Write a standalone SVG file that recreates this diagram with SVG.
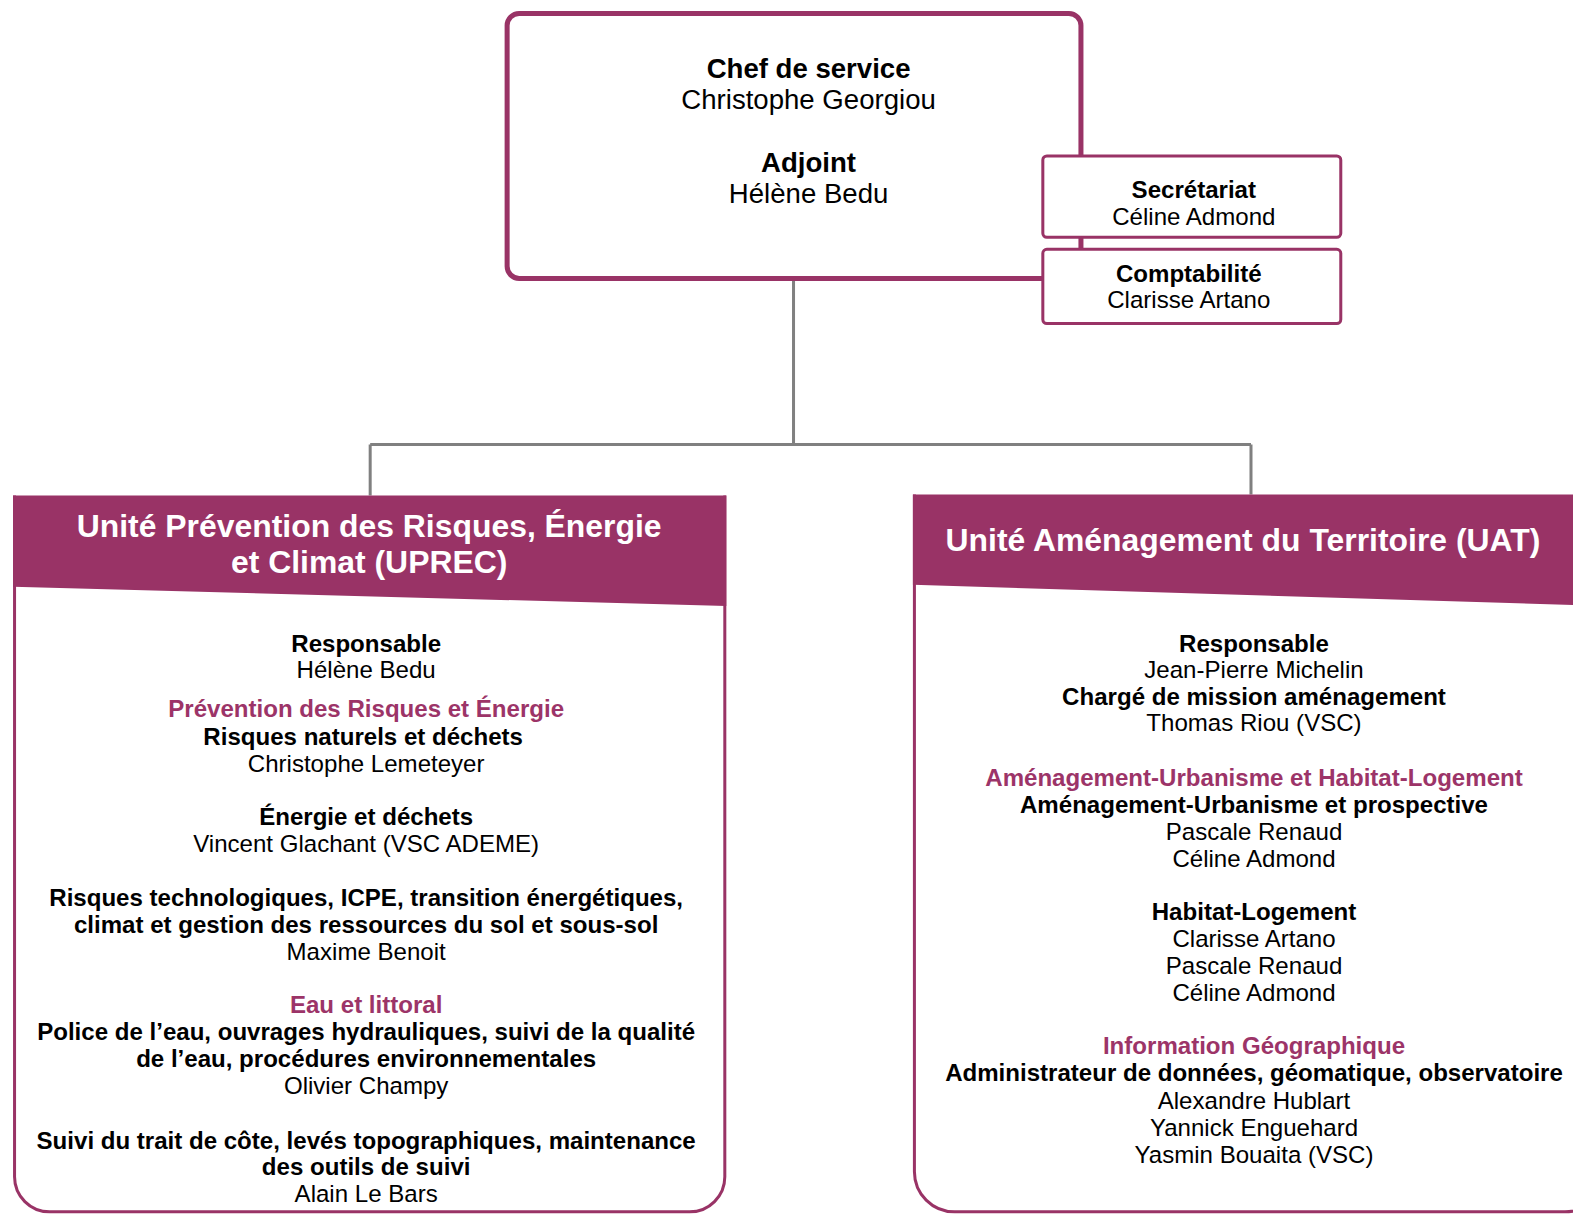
<svg xmlns="http://www.w3.org/2000/svg" width="1573" height="1214" viewBox="0 0 1573 1214">
<style>
text{font-family:"Liberation Sans",Arial,sans-serif;text-anchor:middle;fill:#000}
.b{font-weight:bold}
.t{font-size:24px}
.big{font-size:27.5px}
.p{fill:#9C3468;font-weight:bold}
.h{fill:#fff;font-weight:bold;font-size:31.8px}
.conn{stroke:#808080;stroke-width:3;fill:none}
.box{fill:#fff;stroke:#993366}
</style>
<rect width="1573" height="1214" fill="#fff"/>
<g transform="scale(1.0032)">
<g id="connectors">
<path class="conn" d="M791,280 V443 M369,443 H1247 M369,443 V495 M1247,443 V494"/>
</g>
<g id="chef">
<rect class="box" x="505.5" y="13.5" width="572" height="264" rx="12" stroke-width="5"/>
<text class="big b" x="806" y="78">Chef de service</text>
<text class="big" x="806" y="109">Christophe Georgiou</text>
<text class="big b" x="806" y="171">Adjoint</text>
<text class="big" x="806" y="202">Hélène Bedu</text>
</g>
<g id="secretariat">
<rect class="box" x="1039.5" y="155.5" width="297" height="81" rx="4" stroke-width="3"/>
<text class="t b" x="1190" y="197">Secrétariat</text>
<text class="t" x="1190" y="224">Céline Admond</text>
</g>
<g id="comptabilite">
<rect class="box" x="1039.5" y="248.5" width="297" height="74" rx="4" stroke-width="3"/>
<text class="t b" x="1185" y="281">Comptabilité</text>
<text class="t" x="1185" y="307">Clarisse Artano</text>
</g>
<g id="uprec">
<path d="M14.5,494 V1173 A35,35 0 0 0 49.5,1208 H687.5 A35,35 0 0 0 722.5,1173 V494" fill="#fff" stroke="#993366" stroke-width="3"/>
<polygon points="13,494 724,494 724,604 13,585" fill="#993366"/>
<text class="h" x="368" y="535">Unité Prévention des Risques, Énergie</text>
<text class="h" x="368" y="571">et Climat (UPREC)</text>
<text class="t b" x="365" y="650">Responsable</text>
<text class="t" x="365" y="676">Hélène Bedu</text>
<text class="t p" x="365" y="715">Prévention des Risques et Énergie</text>
<text class="t b" x="362" y="743">Risques naturels et déchets</text>
<text class="t" x="365" y="770">Christophe Lemeteyer</text>
<text class="t b" x="365" y="822">Énergie et déchets</text>
<text class="t" x="365" y="849">Vincent Glachant (VSC ADEME)</text>
<text class="t b" x="365" y="903">Risques technologiques, ICPE, transition énergétiques,</text>
<text class="t b" x="365" y="930">climat et gestion des ressources du sol et sous-sol</text>
<text class="t" x="365" y="957">Maxime Benoit</text>
<text class="t p" x="365" y="1010">Eau et littoral</text>
<text class="t b" x="365" y="1037">Police de l’eau, ouvrages hydrauliques, suivi de la qualité</text>
<text class="t b" x="365" y="1064">de l’eau, procédures environnementales</text>
<text class="t" x="365" y="1091">Olivier Champy</text>
<text class="t b" x="365" y="1145">Suivi du trait de côte, levés topographiques, maintenance</text>
<text class="t b" x="365" y="1171">des outils de suivi</text>
<text class="t" x="365" y="1198">Alain Le Bars</text>
</g>
<g id="uat">
<path d="M911.5,493 V1168 A40,40 0 0 0 951.5,1208 H1560 A40,40 0 0 0 1600,1168 V493" fill="#fff" stroke="#993366" stroke-width="3"/>
<polygon points="910,493 1602,493 1602,604 910,583" fill="#993366"/>
<text class="h" x="1239" y="549">Unité Aménagement du Territoire (UAT)</text>
<text class="t b" x="1250" y="650">Responsable</text>
<text class="t" x="1250" y="676">Jean-Pierre Michelin</text>
<text class="t b" x="1250" y="703">Chargé de mission aménagement</text>
<text class="t" x="1250" y="729">Thomas Riou (VSC)</text>
<text class="t p" x="1250" y="783">Aménagement-Urbanisme et Habitat-Logement</text>
<text class="t b" x="1250" y="810">Aménagement-Urbanisme et prospective</text>
<text class="t" x="1250" y="837">Pascale Renaud</text>
<text class="t" x="1250" y="864">Céline Admond</text>
<text class="t b" x="1250" y="917">Habitat-Logement</text>
<text class="t" x="1250" y="944">Clarisse Artano</text>
<text class="t" x="1250" y="971">Pascale Renaud</text>
<text class="t" x="1250" y="998">Céline Admond</text>
<text class="t p" x="1250" y="1051">Information Géographique</text>
<text class="t b" x="1250" y="1078">Administrateur de données, géomatique, observatoire</text>
<text class="t" x="1250" y="1105">Alexandre Hublart</text>
<text class="t" x="1250" y="1132">Yannick Enguehard</text>
<text class="t" x="1250" y="1159">Yasmin Bouaita (VSC)</text>
</g>
</g>
</svg>
